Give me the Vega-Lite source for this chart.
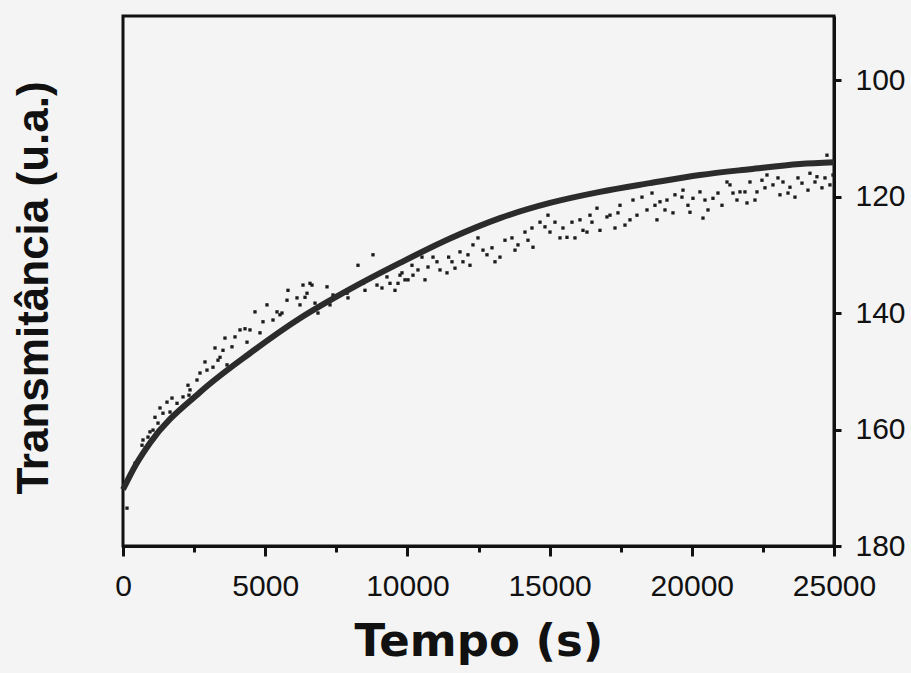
{
  "$schema": "https://vega.github.io/schema/vega-lite/v6.json",
  "width": 711,
  "height": 530,
  "autosize": {"type": "none"},
  "padding": {"left": 123, "top": 16, "right": 77, "bottom": 127},
  "background": "#f4f4f4",
  "view": {"stroke": "#111111", "strokeWidth": 3, "fill": null},
  "datasets": {
    "ajuste": [
      {"tempo": 0, "transmitancia": 170.3},
      {"tempo": 457, "transmitancia": 166.0},
      {"tempo": 949, "transmitancia": 162.3},
      {"tempo": 2707, "transmitancia": 153.6},
      {"tempo": 4465, "transmitancia": 146.9},
      {"tempo": 6223, "transmitancia": 140.9},
      {"tempo": 7981, "transmitancia": 135.9},
      {"tempo": 9739, "transmitancia": 131.4},
      {"tempo": 11497, "transmitancia": 127.2},
      {"tempo": 13255, "transmitancia": 123.7},
      {"tempo": 15013, "transmitancia": 121.1},
      {"tempo": 16771, "transmitancia": 119.2},
      {"tempo": 18529, "transmitancia": 117.7},
      {"tempo": 20287, "transmitancia": 116.3},
      {"tempo": 22045, "transmitancia": 115.3},
      {"tempo": 23803, "transmitancia": 114.4},
      {"tempo": 25000, "transmitancia": 114.1}
    ],
    "medidas": [
      {"tempo": 141, "transmitancia": 173.5},
      {"tempo": 422, "transmitancia": 165.8},
      {"tempo": 668, "transmitancia": 162.7},
      {"tempo": 949, "transmitancia": 160.4},
      {"tempo": 1125, "transmitancia": 157.9},
      {"tempo": 1301, "transmitancia": 156.3},
      {"tempo": 1547, "transmitancia": 155.3},
      {"tempo": 1723, "transmitancia": 154.6},
      {"tempo": 1653, "transmitancia": 157.0},
      {"tempo": 2285, "transmitancia": 152.4},
      {"tempo": 2320, "transmitancia": 154.1},
      {"tempo": 2707, "transmitancia": 150.3},
      {"tempo": 2883, "transmitancia": 148.4},
      {"tempo": 3235, "transmitancia": 146.0},
      {"tempo": 3411, "transmitancia": 147.6},
      {"tempo": 3586, "transmitancia": 144.3},
      {"tempo": 3657, "transmitancia": 148.9},
      {"tempo": 3938, "transmitancia": 144.1},
      {"tempo": 4290, "transmitancia": 142.7},
      {"tempo": 4360, "transmitancia": 145.0},
      {"tempo": 4641, "transmitancia": 139.8},
      {"tempo": 4922, "transmitancia": 141.5},
      {"tempo": 5063, "transmitancia": 138.6},
      {"tempo": 5415, "transmitancia": 139.8},
      {"tempo": 5520, "transmitancia": 140.3},
      {"tempo": 5801, "transmitancia": 136.1},
      {"tempo": 6223, "transmitancia": 138.6},
      {"tempo": 6329, "transmitancia": 135.2},
      {"tempo": 6575, "transmitancia": 134.9},
      {"tempo": 6856, "transmitancia": 140.0},
      {"tempo": 7278, "transmitancia": 138.6},
      {"tempo": 7876, "transmitancia": 136.6},
      {"tempo": 7911, "transmitancia": 137.4},
      {"tempo": 8438, "transmitancia": 134.9},
      {"tempo": 8931, "transmitancia": 135.2},
      {"tempo": 9106, "transmitancia": 135.7},
      {"tempo": 9388, "transmitancia": 134.9},
      {"tempo": 9669, "transmitancia": 134.9},
      {"tempo": 10021, "transmitancia": 134.3},
      {"tempo": 6400, "transmitancia": 137.3},
      {"tempo": 6645, "transmitancia": 135.2},
      {"tempo": 8263, "transmitancia": 131.8},
      {"tempo": 8790, "transmitancia": 130.0},
      {"tempo": 9282, "transmitancia": 133.8},
      {"tempo": 9810, "transmitancia": 133.1},
      {"tempo": 9915, "transmitancia": 134.3},
      {"tempo": 10161, "transmitancia": 131.8},
      {"tempo": 10196, "transmitancia": 133.5},
      {"tempo": 10513, "transmitancia": 130.4},
      {"tempo": 10724, "transmitancia": 132.1},
      {"tempo": 10900, "transmitancia": 130.4},
      {"tempo": 11392, "transmitancia": 133.1},
      {"tempo": 11450, "transmitancia": 130.4},
      {"tempo": 11568, "transmitancia": 131.2},
      {"tempo": 11849, "transmitancia": 129.5},
      {"tempo": 11954, "transmitancia": 131.2},
      {"tempo": 12306, "transmitancia": 128.3},
      {"tempo": 12482, "transmitancia": 127.1},
      {"tempo": 12798, "transmitancia": 130.0},
      {"tempo": 12974, "transmitancia": 128.8},
      {"tempo": 13255, "transmitancia": 130.4},
      {"tempo": 13677, "transmitancia": 127.1},
      {"tempo": 13888, "transmitancia": 128.3},
      {"tempo": 14416, "transmitancia": 128.7},
      {"tempo": 14380, "transmitancia": 125.4},
      {"tempo": 14662, "transmitancia": 124.4},
      {"tempo": 14838, "transmitancia": 125.2},
      {"tempo": 15189, "transmitancia": 124.4},
      {"tempo": 15365, "transmitancia": 127.1},
      {"tempo": 15611, "transmitancia": 127.0},
      {"tempo": 15892, "transmitancia": 127.1},
      {"tempo": 15787, "transmitancia": 124.4},
      {"tempo": 16068, "transmitancia": 124.0},
      {"tempo": 16174, "transmitancia": 125.8},
      {"tempo": 16420, "transmitancia": 123.2},
      {"tempo": 16666, "transmitancia": 122.0},
      {"tempo": 16771, "transmitancia": 125.8},
      {"tempo": 17017, "transmitancia": 123.5},
      {"tempo": 17123, "transmitancia": 123.2},
      {"tempo": 17404, "transmitancia": 122.8},
      {"tempo": 17650, "transmitancia": 124.9},
      {"tempo": 17826, "transmitancia": 124.0},
      {"tempo": 17932, "transmitancia": 120.6},
      {"tempo": 18248, "transmitancia": 120.1},
      {"tempo": 18424, "transmitancia": 122.3},
      {"tempo": 18600, "transmitancia": 119.4},
      {"tempo": 18775, "transmitancia": 124.0},
      {"tempo": 18881, "transmitancia": 120.9},
      {"tempo": 19127, "transmitancia": 120.6},
      {"tempo": 19338, "transmitancia": 122.8},
      {"tempo": 19654, "transmitancia": 120.1},
      {"tempo": 19690, "transmitancia": 118.9},
      {"tempo": 19865, "transmitancia": 121.5},
      {"tempo": 20041, "transmitancia": 120.3},
      {"tempo": 20287, "transmitancia": 119.2},
      {"tempo": 20393, "transmitancia": 123.7},
      {"tempo": 20569, "transmitancia": 122.3},
      {"tempo": 20744, "transmitancia": 120.3},
      {"tempo": 20920, "transmitancia": 119.4},
      {"tempo": 21237, "transmitancia": 117.5},
      {"tempo": 21448, "transmitancia": 119.4},
      {"tempo": 21588, "transmitancia": 120.6},
      {"tempo": 21694, "transmitancia": 119.2},
      {"tempo": 21940, "transmitancia": 121.1},
      {"tempo": 22045, "transmitancia": 117.5},
      {"tempo": 22291, "transmitancia": 119.2},
      {"tempo": 22467, "transmitancia": 117.2},
      {"tempo": 22643, "transmitancia": 116.3},
      {"tempo": 22854, "transmitancia": 118.0},
      {"tempo": 23100, "transmitancia": 119.7},
      {"tempo": 23206, "transmitancia": 117.5},
      {"tempo": 23452, "transmitancia": 118.4},
      {"tempo": 23628, "transmitancia": 120.1},
      {"tempo": 23874, "transmitancia": 117.7},
      {"tempo": 24155, "transmitancia": 116.0},
      {"tempo": 24401, "transmitancia": 116.6},
      {"tempo": 24577, "transmitancia": 118.5},
      {"tempo": 24683, "transmitancia": 116.8},
      {"tempo": 24753, "transmitancia": 112.9},
      {"tempo": 703, "transmitancia": 161.8},
      {"tempo": 879, "transmitancia": 161.3},
      {"tempo": 1055, "transmitancia": 160.1},
      {"tempo": 1231, "transmitancia": 158.9},
      {"tempo": 1406, "transmitancia": 157.2},
      {"tempo": 1899, "transmitancia": 155.5},
      {"tempo": 2110, "transmitancia": 154.4},
      {"tempo": 2356, "transmitancia": 153.2},
      {"tempo": 2602, "transmitancia": 151.5},
      {"tempo": 2953, "transmitancia": 149.8},
      {"tempo": 3164, "transmitancia": 149.3},
      {"tempo": 3340, "transmitancia": 148.1},
      {"tempo": 3516, "transmitancia": 146.4},
      {"tempo": 3832, "transmitancia": 145.8},
      {"tempo": 4114, "transmitancia": 142.9},
      {"tempo": 4465, "transmitancia": 142.9},
      {"tempo": 4817, "transmitancia": 143.4},
      {"tempo": 5274, "transmitancia": 141.2},
      {"tempo": 5590, "transmitancia": 140.0},
      {"tempo": 5766, "transmitancia": 137.8},
      {"tempo": 6118, "transmitancia": 137.4},
      {"tempo": 6470, "transmitancia": 136.6},
      {"tempo": 6751, "transmitancia": 138.3},
      {"tempo": 7173, "transmitancia": 135.5},
      {"tempo": 7384, "transmitancia": 136.9},
      {"tempo": 8509, "transmitancia": 136.1},
      {"tempo": 8685, "transmitancia": 134.0},
      {"tempo": 9563, "transmitancia": 136.1},
      {"tempo": 9739, "transmitancia": 133.5},
      {"tempo": 10372, "transmitancia": 132.6},
      {"tempo": 10618, "transmitancia": 134.3},
      {"tempo": 11040, "transmitancia": 131.2},
      {"tempo": 11146, "transmitancia": 132.6},
      {"tempo": 11673, "transmitancia": 132.3},
      {"tempo": 12130, "transmitancia": 130.0},
      {"tempo": 12200, "transmitancia": 131.8},
      {"tempo": 12658, "transmitancia": 129.2},
      {"tempo": 13080, "transmitancia": 131.2},
      {"tempo": 13431, "transmitancia": 127.5},
      {"tempo": 13783, "transmitancia": 129.2},
      {"tempo": 14134, "transmitancia": 126.1},
      {"tempo": 14240, "transmitancia": 127.5},
      {"tempo": 15013, "transmitancia": 126.1},
      {"tempo": 14943, "transmitancia": 123.2},
      {"tempo": 15470, "transmitancia": 125.4},
      {"tempo": 16314, "transmitancia": 126.1},
      {"tempo": 16490, "transmitancia": 124.4},
      {"tempo": 17299, "transmitancia": 125.4},
      {"tempo": 17475, "transmitancia": 121.5},
      {"tempo": 18072, "transmitancia": 123.2},
      {"tempo": 18705, "transmitancia": 121.5},
      {"tempo": 19057, "transmitancia": 122.3},
      {"tempo": 19408, "transmitancia": 119.7},
      {"tempo": 19936, "transmitancia": 122.7},
      {"tempo": 20463, "transmitancia": 120.6},
      {"tempo": 21061, "transmitancia": 121.5},
      {"tempo": 21342, "transmitancia": 118.0},
      {"tempo": 21869, "transmitancia": 119.2},
      {"tempo": 22221, "transmitancia": 120.6},
      {"tempo": 22573, "transmitancia": 118.5},
      {"tempo": 23030, "transmitancia": 116.8},
      {"tempo": 23382, "transmitancia": 119.4},
      {"tempo": 23733, "transmitancia": 116.8},
      {"tempo": 24085, "transmitancia": 118.9},
      {"tempo": 24331, "transmitancia": 117.5},
      {"tempo": 24858, "transmitancia": 118.0},
      {"tempo": 24964, "transmitancia": 116.3}
    ]
  },
  "encoding": {
    "x": {
      "field": "tempo",
      "type": "quantitative",
      "scale": {"domain": [0, 25000], "nice": false, "zero": false},
      "axis": {
        "orient": "bottom",
        "values": [0, 2500, 5000, 7500, 10000, 12500, 15000, 17500, 20000, 22500, 25000],
        "labelExpr": "datum.value % 5000 === 0 ? format(datum.value, 'd') : ''",
        "tickSize": {"condition": {"test": "datum.value % 5000 === 0", "value": 10}, "value": 6},
        "tickWidth": 3,
        "tickColor": "#111111",
        "domainWidth": 3,
        "domainColor": "#111111",
        "grid": false,
        "labelFont": "Liberation Sans",
        "labelFontSize": 30,
        "labelColor": "#111111",
        "labelPadding": 15,
        "labelBaseline": "top",
        "labelFlush": false,
        "labelOverlap": false,
        "title": "Tempo (s)",
        "titleFont": "DejaVu Sans",
        "titleFontWeight": "bold",
        "titleFontSize": 45,
        "titleColor": "#111111",
        "titleX": 355.5,
        "titleY": 109,
        "titleAlign": "center",
        "titleBaseline": "alphabetic"
      }
    },
    "y": {
      "field": "transmitancia",
      "type": "quantitative",
      "scale": {"domain": [89, 180], "reverse": true, "nice": false, "zero": false},
      "axis": {
        "orient": "right",
        "values": [100, 120, 140, 160, 180],
        "tickSize": 7,
        "tickWidth": 3,
        "tickColor": "#111111",
        "domainWidth": 3,
        "domainColor": "#111111",
        "grid": false,
        "labelFont": "Liberation Sans",
        "labelFontSize": 30,
        "labelColor": "#111111",
        "labelPadding": 14,
        "labelAlign": "left",
        "labelBaseline": "middle",
        "labelFlush": false,
        "labelOverlap": false,
        "title": "Transmitância (u.a.)",
        "titleFont": "Liberation Sans",
        "titleFontWeight": "bold",
        "titleFontSize": 44,
        "titleColor": "#111111",
        "titleAngle": -90,
        "titleX": -787,
        "titleY": 271.5,
        "titleAlign": "center",
        "titleBaseline": "alphabetic"
      }
    }
  },
  "layer": [
    {
      "data": {"name": "medidas"},
      "mark": {"type": "point", "shape": "square", "filled": true, "size": 11, "color": "#1c1c1c", "opacity": 1}
    },
    {
      "data": {"name": "ajuste"},
      "mark": {"type": "line", "color": "#2b2b2b", "strokeWidth": 6, "interpolate": "monotone"}
    }
  ]
}
